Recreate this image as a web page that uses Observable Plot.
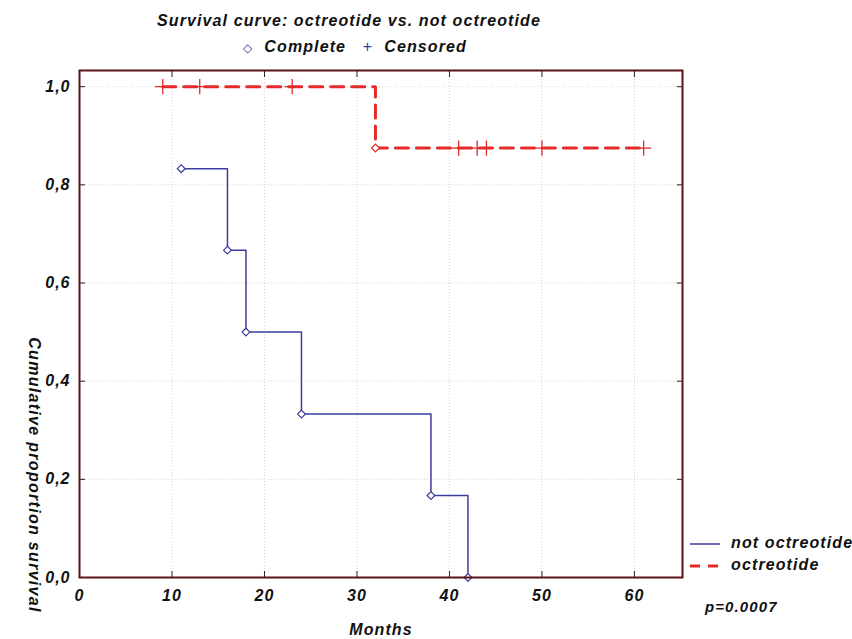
<!DOCTYPE html>
<html><head><meta charset="utf-8">
<script src="https://cdn.jsdelivr.net/npm/d3@7"></script>
<script src="https://cdn.jsdelivr.net/npm/@observablehq/plot@0.6"></script>
<style>
body{margin:0;background:#fff;font-family:"Liberation Sans",Arial,sans-serif;}
#wrap{position:relative;width:852px;height:639px;overflow:hidden;}
.t{position:absolute;font-weight:bold;font-style:italic;color:#111;white-space:nowrap;letter-spacing:1.1px;}
</style></head><body>
<div id="wrap"></div>
<script>
// Data
const xTicks = [0,10,20,30,40,50,60];
const yTicks = [0,0.2,0.4,0.6,0.8,1.0];
const notTime = [11,16,18,24,38,42];
const notSurv = [0.833,0.667,0.5,0.333,0.167,0];
const octTime = [9,32,61];
const octSurv = [1,0.875,0.875];
const octEventTime = [32];
const octEventSurv = [0.875];
const octCensTime = [9,13,23,41,43,44,50,61];
const octCensSurv = [1,1,1,0.875,0.875,0.875,0.875,0.875];

const blue = "#3d3d9e", red = "#e52a2a";
const notData = notTime.map((t,i)=>({t, s:notSurv[i]}));
const octData = octTime.map((t,i)=>({t, s:octSurv[i]}));
const octEv = octEventTime.map((t,i)=>({t, s:octEventSurv[i]}));
const octCens = octCensTime.map((t,i)=>({t, s:octCensSurv[i]}));
const fmt = d => d.toFixed(1).replace(".", ",");

const chart = Plot.plot({
  width: 852, height: 639,
  marginLeft: 79, marginRight: 170, marginTop: 70, marginBottom: 62,
  style: {fontFamily: "Liberation Sans, Arial, sans-serif", background: "transparent", letterSpacing: "1px"},
  x: {domain: [0, 65.2]},
  y: {domain: [0, 1.033]},
  marks: [
    Plot.gridX(xTicks.slice(1), {stroke: "#c8c8d0", strokeOpacity: 0.8, strokeDasharray: "1,2"}),
    Plot.gridY(yTicks.slice(1), {stroke: "#c8c8d0", strokeOpacity: 0.8, strokeDasharray: "1,2"}),
    Plot.axisX(xTicks, {anchor: "bottom", tickSize: -6, tickPadding: 18, tickFormat: d => d, fontSize: 16, fontWeight: "bold", fontStyle: "italic", fill: "#111", stroke: "#222", label: null}),
    Plot.axisX(xTicks, {anchor: "top", tickSize: -6, tickFormat: () => "", stroke: "#222", label: null}),
    Plot.axisY(yTicks, {anchor: "left", tickSize: -6, tickPadding: 15, tickFormat: fmt, fontSize: 16, fontWeight: "bold", fontStyle: "italic", fill: "#111", stroke: "#222", label: null}),
    Plot.axisY(yTicks, {anchor: "right", tickSize: -6, tickFormat: () => "", stroke: "#222", label: null}),
    Plot.line(notData, {x: "t", y: "s", curve: "step-after", stroke: blue, strokeWidth: 1.5}),
    Plot.dot(notData, {x: "t", y: "s", symbol: "diamond2", r: 3.5, stroke: blue, fill: "white", strokeWidth: 1.2}),
    Plot.line(octData, {x: "t", y: "s", curve: "step-after", stroke: red, strokeWidth: 3, strokeDasharray: "13,8"}),
    Plot.dot(octEv, {x: "t", y: "s", symbol: "diamond2", r: 3.5, stroke: red, fill: "white", strokeWidth: 1.2}),
    Plot.dot(octCens, {x: "t", y: "s", symbol: "plus", r: 5, stroke: red, strokeWidth: 1.3}),
    Plot.frame({stroke: "#5a1414", strokeWidth: 2})
  ]
});
const wrap = document.getElementById("wrap");
wrap.appendChild(chart);

function addText(html, style){ const d=document.createElement("div"); d.className="t"; d.innerHTML=html; Object.assign(d.style, style); wrap.appendChild(d); return d; }
addText("Survival curve: octreotide vs. not octreotide", {left:"349px", top:"12px", fontSize:"16px", transform:"translateX(-50%)"});
addText('<span style="color:'+blue+';font-style:normal;font-weight:normal;font-size:12px">&#9671;</span>&nbsp; Complete &nbsp;&nbsp;<span style="color:'+blue+';font-style:normal;font-weight:normal">+</span>&nbsp; Censored', {left:"355px", top:"38px", fontSize:"16px", transform:"translateX(-50%)"});
addText("Months", {left:"381px", top:"621px", fontSize:"16px", transform:"translateX(-50%)"});
addText("Cumulative proportion survival", {left:"34px", top:"475px", fontSize:"16px", letterSpacing:"1.3px", transform:"translate(-50%,-50%) rotate(90deg)", transformOrigin:"center"});
addText("p=0.0007", {left:"705px", top:"598px", fontSize:"15px"});
addText('<svg width="30" height="10" style="vertical-align:middle"><line x1="0" y1="5" x2="30" y2="5" stroke="'+blue+'" stroke-width="1.5"/></svg>&nbsp; not octreotide', {left:"690px", top:"534px", fontSize:"16px"});
addText('<svg width="30" height="10" style="vertical-align:middle"><line x1="0" y1="5" x2="30" y2="5" stroke="'+red+'" stroke-width="3" stroke-dasharray="10,8"/></svg>&nbsp; octreotide', {left:"690px", top:"556px", fontSize:"16px"});
</script>
</body></html>
